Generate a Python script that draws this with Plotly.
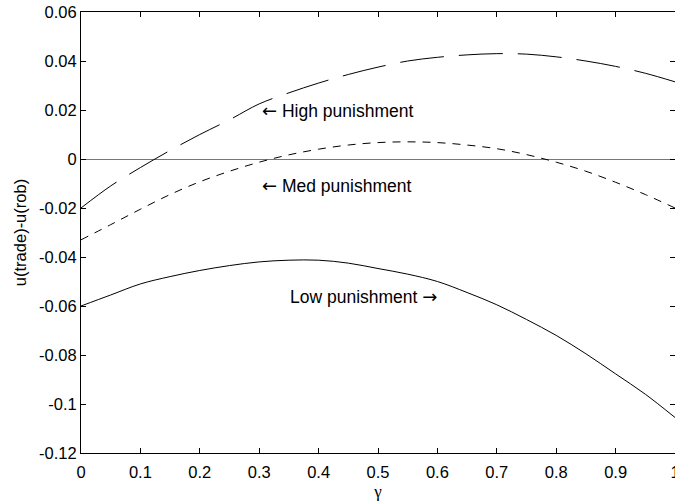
import plotly.graph_objects as go

gamma = [0.0, 0.05, 0.1, 0.15, 0.2, 0.25, 0.3, 0.35, 0.4, 0.45, 0.5,
         0.55, 0.6, 0.65, 0.7, 0.75, 0.8, 0.85, 0.9, 0.95, 1.0]
high_punishment = [-0.020, -0.011, -0.0035, 0.0035, 0.010, 0.016, 0.0225, 0.027, 0.031, 0.0345, 0.0375,
                   0.040, 0.0415, 0.0425, 0.043, 0.0428, 0.0417, 0.040, 0.0378, 0.035, 0.0315]
med_punishment = [-0.033, -0.0268, -0.0205, -0.0145, -0.0093, -0.005, -0.0013, 0.0017, 0.004, 0.0057, 0.0067,
                  0.007, 0.0067, 0.0057, 0.0042, 0.0018, -0.0013, -0.005, -0.0095, -0.0145, -0.020]
low_punishment = [-0.060, -0.0555, -0.051, -0.048, -0.0455, -0.0435, -0.042, -0.0413, -0.0413, -0.0425, -0.0447,
                  -0.047, -0.050, -0.0545, -0.0595, -0.0655, -0.072, -0.0795, -0.0877, -0.096, -0.1055]

x_ticks = [0, 0.1, 0.2, 0.3, 0.4, 0.5, 0.6, 0.7, 0.8, 0.9, 1]
x_ticktext = ["0", "0.1", "0.2", "0.3", "0.4", "0.5", "0.6", "0.7", "0.8", "0.9", "1"]
y_ticks = [0.06, 0.04, 0.02, 0, -0.02, -0.04, -0.06, -0.08, -0.1, -0.12]
y_ticktext = ["0.06", "0.04", "0.02", "0", "-0.02", "-0.04", "-0.06", "-0.08", "-0.1", "-0.12"]

ARROW = "<span style='font-family:DejaVu Sans;font-size:18px'>{}</span>"
labels = [ARROW.format("\u2190") + " High punishment",
          ARROW.format("\u2190") + " Med punishment",
          "Low punishment " + ARROW.format("\u2192")]
label_x = [0.301, 0.301, 0.348]
label_y = [0.0197, -0.011, -0.0562]

FONT = "Liberation Sans, Arial, Helvetica, sans-serif"

fig = go.Figure()
fig.add_trace(go.Scatter(x=gamma, y=high_punishment, mode="lines",
                         line=dict(color="black", width=1, dash="44px,15px", shape="spline"),
                         showlegend=False))
fig.add_trace(go.Scatter(x=gamma, y=med_punishment, mode="lines",
                         line=dict(color="black", width=1, dash="8px,7px", shape="spline"),
                         showlegend=False))
fig.add_trace(go.Scatter(x=gamma, y=low_punishment, mode="lines",
                         line=dict(color="black", width=1, shape="spline"),
                         showlegend=False))

for t, xx, yy in zip(labels, label_x, label_y):
    fig.add_annotation(x=xx, y=yy, text=t, showarrow=False, xanchor="left", yanchor="middle",
                       font=dict(family=FONT, size=17.5, color="black"))

fig.update_layout(
    width=675, height=501,
    margin=dict(l=81, r=0, t=12, b=48),
    paper_bgcolor="white", plot_bgcolor="white",
    font=dict(family=FONT, size=16.5, color="black"),
)
fig.update_xaxes(range=[0, 1], tickvals=x_ticks, ticktext=x_ticktext, automargin=False,
                 ticks="inside", ticklen=5, tickcolor="black", showline=True, linecolor="black",
                 linewidth=1, mirror="ticks", showgrid=False, zeroline=False,
                 ticklabelstandoff=4, ticklabeloverflow="allow",
                 title=dict(text="\u03b3", standoff=8,
                            font=dict(family="Liberation Serif, Times New Roman, serif", size=17)))
fig.update_yaxes(range=[-0.12, 0.06], tickvals=y_ticks, ticktext=y_ticktext, automargin=False,
                 ticks="inside", ticklen=5, tickcolor="black", showline=True, linecolor="black",
                 linewidth=1, mirror="ticks", showgrid=False, ticklabeloverflow="allow",
                 zeroline=True, zerolinecolor="#777777", zerolinewidth=1,
                 title=dict(text="u(trade)-u(rob)", standoff=8, font=dict(family=FONT, size=16.5)))

fig.write_html("out.html", config={"displayModeBar": False},
               post_script="document.body.style.margin='0';document.body.style.overflow='hidden';")
